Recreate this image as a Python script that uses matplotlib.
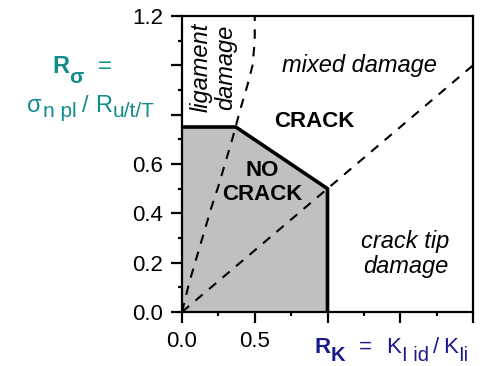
import matplotlib
matplotlib.use("Agg")
import matplotlib.pyplot as plt
from matplotlib.ticker import MultipleLocator, FixedLocator, FixedFormatter

plt.rcParams['font.family'] = ['Liberation Sans', 'DejaVu Sans']

W, H = 490, 366

# No-crack region boundary (R_K, R_sigma)
safe_x = [0.0, 0.0, 0.37, 1.0, 1.0]
safe_y = [0.0, 0.75, 0.75, 0.5, 0.0]

# Ligament-damage / mixed-damage border
lig_x = [0.0, 0.05, 0.10, 0.15, 0.20, 0.25, 0.30, 0.35, 0.40, 0.45, 0.485, 0.50, 0.50]
lig_y = [0.0, 0.12, 0.22, 0.32, 0.42, 0.51, 0.61, 0.71, 0.82, 0.92, 1.00, 1.10, 1.20]

# Mixed-damage / crack-tip-damage border
tip_x = [0.0, 2.0]
tip_y = [0.0, 1.0]

x_ticks = [0.0, 0.5, 1.0, 1.5, 2.0]
x_ticklabels = ['0.0', '0.5', '', '', '']
y_ticks = [0.0, 0.2, 0.4, 0.6, 0.8, 1.0, 1.2]
y_ticklabels = ['0.0', '0.2', '0.4', '0.6', '', '', '1.2']

fig = plt.figure(figsize=(W / 100, H / 100), dpi=100)
ax = fig.add_axes([182 / W, 1 - 312 / H, (473 - 182) / W, (312 - 16) / H])

ax.fill(safe_x, safe_y, color='#c0c0c0', lw=0, zorder=1)
ax.plot(safe_x[1:], safe_y[1:], color='black', lw=2.6, solid_joinstyle='miter', zorder=3)

dash = (0, (4.5, 4))
ax.plot(lig_x, lig_y, color='black', lw=1.5, linestyle=dash, zorder=2)
ax.plot(tip_x, tip_y, color='black', lw=1.5, linestyle=dash, zorder=2)

ax.set_xlim(0, 2.0)
ax.set_ylim(0, 1.2)

ax.xaxis.set_major_locator(FixedLocator(x_ticks))
ax.xaxis.set_major_formatter(FixedFormatter(x_ticklabels))
ax.xaxis.set_minor_locator(MultipleLocator(0.25))
ax.yaxis.set_major_locator(FixedLocator(y_ticks))
ax.yaxis.set_major_formatter(FixedFormatter(y_ticklabels))
ax.yaxis.set_minor_locator(MultipleLocator(0.1))

ax.tick_params(which='major', direction='out', length=8, width=1.6,
               labelsize=16, pad=5.5)
ax.tick_params(which='minor', direction='out', length=3, width=1.6)
for s in ax.spines.values():
    s.set_linewidth(1.6)

# Region annotations
ax.text(0.216, 0.99, 'ligament\ndamage', rotation=90, style='italic',
        fontsize=17, ha='center', va='center', linespacing=1.1, zorder=4)
ax.text(1.22, 1.0, 'mixed damage', style='italic', fontsize=17,
        ha='center', va='center', zorder=4)
ax.text(0.91, 0.774, 'CRACK', weight='bold', fontsize=16,
        ha='center', va='center', zorder=4)
ax.text(0.55, 0.525, 'NO\nCRACK', weight='bold', fontsize=16,
        ha='center', va='center', linespacing=1.15, zorder=4)
ax.text(1.536, 0.235, 'crack tip\ndamage', style='italic', fontsize=17,
        ha='center', va='center', linespacing=1.15, zorder=4)

# Axis titles built from runs of text with larger-than-mathtext subscripts
renderer = fig.canvas.get_renderer()


def text_run(x0, y0, pieces, color):
    """Place text pieces left to right in pixel units.
    Each piece: (string, size, weight, drop below baseline px, gap before px)."""
    x = x0
    for s, size, weight, drop, gap in pieces:
        x += gap
        t = fig.text(x / W, 1 - (y0 + drop) / H, s, fontsize=size,
                     weight=weight, color=color, ha='left', va='baseline')
        x += t.get_window_extent(renderer).width


teal = '#138c8c'
navy = '#1a1a8c'

text_run(52, 73, [('R', 17, 'bold', 0, 0),
                  ('σ', 15, 'bold', 10, 0),
                  ('=', 17, 'normal', 0, 14)], teal)
text_run(27, 112, [('σ', 17, 'normal', 0, 0),
                   ('n pl', 15, 'normal', 5, 1),
                   ('/', 17, 'normal', 0, 6),
                   ('R', 17, 'normal', 0, 6),
                   ('u/t/T', 15, 'normal', 5, 1)], teal)
text_run(314, 353, [('R', 16, 'bold', 0, 0),
                    ('K', 14.5, 'bold', 8, 0),
                    ('=', 16, 'normal', 0, 14),
                    ('K', 16, 'normal', 0, 14),
                    ('I id', 14.5, 'normal', 8, 1),
                    ('/', 16, 'normal', 0, 4),
                    ('K', 16, 'normal', 0, 4),
                    ('Ii', 14.5, 'normal', 8, 1)], navy)

fig.savefig('out.png', dpi=100, facecolor='white')
